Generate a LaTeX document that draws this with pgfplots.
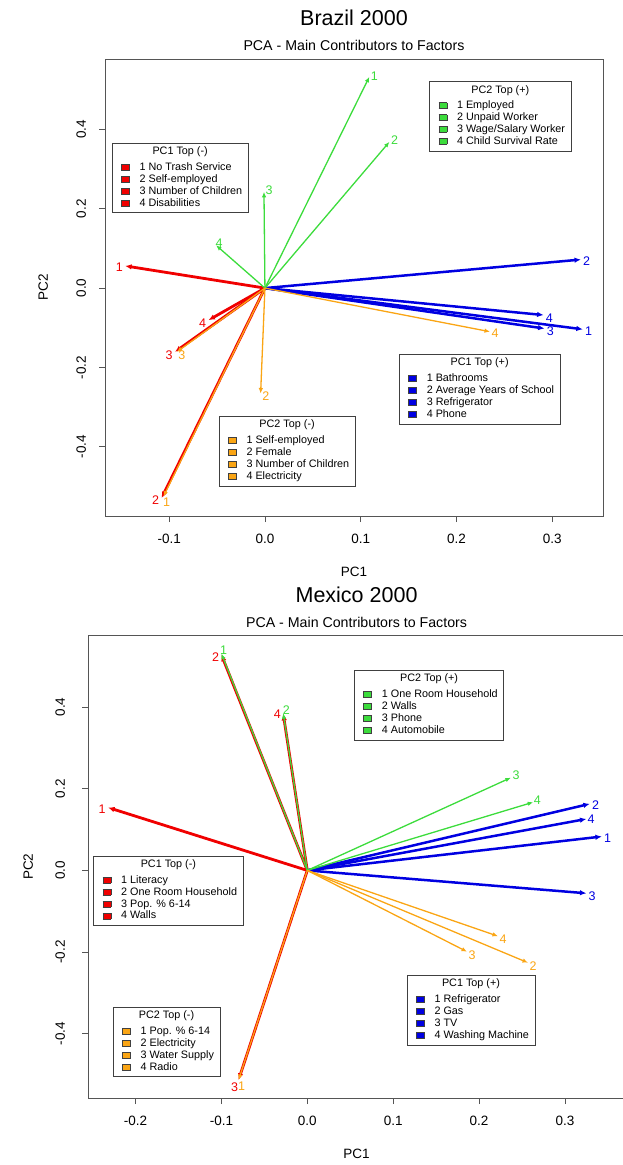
\documentclass[border=0pt]{standalone}
\usepackage{pgfplots}
\pgfplotsset{compat=1.18}
\usetikzlibrary{arrows.meta}
\usepackage{fontspec}
\setmainfont{Liberation Sans}

\definecolor{cred}{RGB}{240,0,0}
\definecolor{cgreen}{RGB}{60,220,60}
\definecolor{cblue}{RGB}{0,0,225}
\definecolor{corange}{RGB}{250,165,20}
\definecolor{frame}{RGB}{85,85,85}

\newcommand\sq[1]{{\setlength\fboxsep{0pt}\setlength\fboxrule{0.5pt}\raisebox{0.4pt}{\fcolorbox{black!75}{#1}{\rule{0pt}{5.5pt}\rule{7.5pt}{0pt}}}}}
\newcommand\lgd[6]{{\fontsize{10.8}{11.9}\selectfont
 \begin{tabular}{@{\hspace{9pt}}l@{\hspace{10pt}}l@{\hspace{6pt}}}
 \multicolumn{2}{c}{#1}\\[3.8pt]
 \sq{#2}&#3\\
 \sq{#2}&#4\\
 \sq{#2}&#5\\
 \sq{#2}&#6
 \end{tabular}}}

\tikzset{
  lgbox/.style={draw=black!75, line width=0.7pt, fill=white, inner xsep=0pt, inner ysep=3.2pt, anchor=north west},
  lab/.style={font=\fontsize{12.5}{14}\selectfont, inner sep=1pt},
}
\pgfplotsset{
  ared/.style={color=cred, line width=2.8pt, -{Latex[length=6.5pt,width=5.5pt]}},
  ablue/.style={color=cblue, line width=2.5pt, -{Latex[length=6.5pt,width=5.5pt]}},
  agreen/.style={color=cgreen, line width=1.3pt, -{Latex[length=5.5pt,width=4.5pt]}},
  aorange/.style={color=corange, line width=1.3pt, -{Latex[length=5.5pt,width=4.5pt]}},
  pca/.style={
    scale only axis, clip=false,
    axis line style={frame, line width=0.8pt},
    tick style={frame, line width=0.8pt},
    major tick length=6pt, tick align=outside,
    xtick pos=bottom, ytick pos=left,
    ticklabel style={font=\fontsize{13.5}{15}\selectfont},
    xticklabel shift=9pt,
    ytick={-0.4,-0.2,0,0.2,0.4},
    yticklabels={-0.4,-0.2,0.0,0.2,0.4},
    yticklabel style={rotate=90, anchor=south},
    xlabel={PC1}, ylabel={PC2},
    label style={font=\fontsize{13.5}{15}\selectfont},
    xlabel style={at={(axis description cs:0.5,0)}, anchor=center, yshift=-55.7pt},
    title={PCA - Main Contributors to Factors},
    title style={at={(axis description cs:0.5,1)}, anchor=center, yshift=7.3pt, font=\fontsize{14.2}{16}\selectfont},
  },
}
% arrow: style, x, y, label, label options
\newcommand\arr[5]{\addplot[#1] coordinates {(0,0) (#2,#3)} node[pos=1,lab,#5]{#4};}

\begin{document}
\begin{tikzpicture}
% ---------------- Brazil 2000 ----------------
\begin{axis}[pca,
  at={(105pt,-516pt)}, anchor=south west,
  width=498pt, height=457pt,
  xmin=-0.167, xmax=0.353, ymin=-0.575, ymax=0.578,
  xtick={-0.1,0,0.1,0.2,0.3},
  xticklabels={-0.1,0.0,0.1,0.2,0.3},
  yticklabel shift=9.5pt,
  ylabel style={at={([xshift=-61.7pt]axis description cs:0,0.5)}, anchor=center},
]
% PC1 Top (-)
\arr{ared}{-0.146}{0.056}{1}{anchor=east,yshift=-1pt}
\arr{ared}{-0.108}{-0.530}{2}{anchor=east,yshift=-2pt}
\arr{ared}{-0.094}{-0.161}{3}{anchor=east,yshift=-3pt}
\arr{ared}{-0.059}{-0.081}{4}{anchor=east,yshift=-3pt}
% PC1 Top (+)
\arr{ablue}{0.332}{-0.104}{1}{anchor=west,yshift=-2pt}
\arr{ablue}{0.330}{0.072}{2}{anchor=west,yshift=-2pt}
\arr{ablue}{0.292}{-0.102}{3}{anchor=west,yshift=-3pt}
\arr{ablue}{0.291}{-0.068}{4}{anchor=west,yshift=-3pt}
% PC2 Top (+)
\arr{agreen}{0.109}{0.533}{1}{anchor=west,yshift=1pt}
\arr{agreen}{0.130}{0.369}{2}{anchor=west,yshift=2pt}
\arr{agreen}{-0.001}{0.243}{3}{anchor=west,yshift=2pt}
\arr{agreen}{-0.051}{0.108}{4}{anchor=west,xshift=-2pt,yshift=2pt}
% PC2 Top (-)
\arr{aorange}{-0.106}{-0.526}{1}{anchor=north west,xshift=-2pt}
\arr{aorange}{-0.0045}{-0.266}{2}{anchor=west,yshift=-3pt}
\arr{aorange}{-0.092}{-0.161}{3}{anchor=west,yshift=-3pt}
\arr{aorange}{0.235}{-0.110}{4}{anchor=west,yshift=-2pt}

\node[lgbox] at (axis cs:-0.160,0.3666) {\lgd{PC1 Top (-)}{cred}{1 No Trash Service}{2 Self-employed}{3 Number of Children}{4 Disabilities}};
\node[lgbox] at (axis cs:0.1715,0.522) {\lgd{PC2 Top (+)}{cgreen}{1 Employed}{2 Unpaid Worker}{3 Wage/Salary Worker}{4 Child Survival Rate}};
\node[lgbox] at (axis cs:0.1399,-0.1665) {\lgd{PC1 Top (+)}{cblue}{1 Bathrooms}{2 Average Years of School}{3 Refrigerator}{4 Phone}};
\node[lgbox] at (axis cs:-0.0483,-0.3228) {\lgd{PC2 Top (-)}{corange}{1 Self-employed}{2 Female}{3 Number of Children}{4 Electricity}};

\node[font=\fontsize{21.5}{24}\selectfont] at ([yshift=41pt]rel axis cs:0.5,1) {Brazil 2000};
\end{axis}

% ---------------- Mexico 2000 ----------------
\begin{axis}[pca,
  at={(88pt,-1098pt)}, anchor=south west,
  width=537.1pt, height=462.3pt,
  xmin=-0.2553, xmax=0.37, ymin=-0.5572, ymax=0.5746,
  xtick={-0.2,-0.1,0,0.1,0.2,0.3},
  xticklabels={-0.2,-0.1,0.0,0.1,0.2,0.3},
  yticklabel shift=13.5pt,
  ylabel style={at={([xshift=-59.7pt]axis description cs:0,0.5)}, anchor=center},
]
% PC1 Top (-)
\arr{ared}{-0.232}{0.154}{1}{anchor=east,yshift=-2pt}
\arr{ared}{-0.100}{0.528}{2}{anchor=east,yshift=-2pt}
\arr{ared}{-0.080}{-0.513}{3}{anchor=north east,xshift=2pt}
\arr{ared}{-0.028}{0.383}{4}{anchor=east}
% PC1 Top (+)
\arr{ablue}{0.343}{0.083}{1}{anchor=west,yshift=-2pt}
\arr{ablue}{0.329}{0.163}{2}{anchor=west,yshift=-1pt}
\arr{ablue}{0.325}{-0.056}{3}{anchor=west,yshift=-3pt}
\arr{ablue}{0.325}{0.126}{4}{anchor=west,xshift=-1pt}
% PC2 Top (+)
\arr{agreen}{-0.100}{0.531}{1}{anchor=west,xshift=-3pt,yshift=3pt}
\arr{agreen}{-0.028}{0.385}{2}{anchor=west,xshift=-2pt,yshift=3pt}
\arr{agreen}{0.237}{0.227}{3}{anchor=west,yshift=2pt}
\arr{agreen}{0.263}{0.167}{4}{anchor=west,xshift=-1pt,yshift=2pt}
% PC2 Top (-)
\arr{aorange}{-0.080}{-0.513}{1}{anchor=north west,xshift=-2pt}
\arr{aorange}{0.257}{-0.226}{2}{anchor=west,yshift=-3pt}
\arr{aorange}{0.186}{-0.199}{3}{anchor=west,yshift=-3pt}
\arr{aorange}{0.222}{-0.161}{4}{anchor=west,yshift=-3pt}

\node[lgbox] at (axis cs:0.0544,0.4906) {\lgd{PC2 Top (+)}{cgreen}{1 One Room Household}{2 Walls}{3 Phone}{4 Automobile}};
\node[lgbox] at (axis cs:-0.2491,0.036) {\lgd{PC1 Top (-)}{cred}{1 Literacy}{2 One Room Household}{3 Pop. \% 6-14}{4 Walls}};
\node[lgbox] at (axis cs:-0.2265,-0.3337) {\lgd{PC2 Top (-)}{corange}{1 Pop. \% 6-14}{2 Electricity}{3 Water Supply}{4 Radio}};
\node[lgbox] at (axis cs:0.1157,-0.2561) {\lgd{PC1 Top (+)}{cblue}{1 Refrigerator}{2 Gas}{3 TV}{4 Washing Machine}};

\node[font=\fontsize{21.5}{24}\selectfont] at ([yshift=40.7pt]rel axis cs:0.5,1) {Mexico 2000};
\end{axis}

\pgfresetboundingbox
\path[use as bounding box] (0pt,0pt) rectangle (622pt,-1165pt);
\end{tikzpicture}
\end{document}
